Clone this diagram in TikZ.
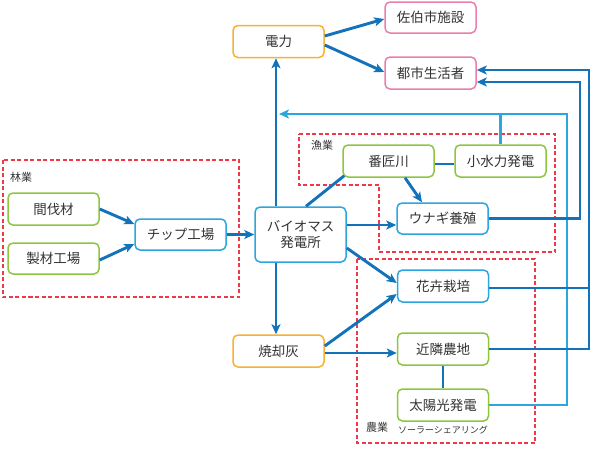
\documentclass[tikz,border=0pt]{standalone}
\usepackage{fontspec}
\setmainfont{Noto Sans CJK JP}
\usetikzlibrary{calc,arrows.meta}
\definecolor{dblue}{HTML}{1373BA}
\definecolor{lblue}{HTML}{2BA6DE}
\definecolor{orng}{HTML}{F8B133}
\definecolor{pnk}{HTML}{EA7FAD}
\definecolor{grn}{HTML}{8DC63F}
\definecolor{rdash}{HTML}{EE3A48}
\definecolor{txt}{HTML}{333333}
\tikzset{
  box/.style={draw, rounded corners=5pt, line width=1.5pt, minimum width=91pt, minimum height=32pt, inner sep=0pt, fill=white, text=txt, font=\fontsize{13.5}{16}\selectfont, align=center},
  obox/.style={box, draw=orng},
  pbox/.style={box, draw=pnk},
  gbox/.style={box, draw=grn},
  bbox/.style={box, draw=lblue},
  arr/.style={draw=dblue, line width=2.9pt, -{Stealth[length=10pt,width=9pt,inset=2.5pt]}},
  ln/.style={draw=dblue, line width=2.9pt},
  larr/.style={draw=lblue, line width=2.4pt, -{Stealth[length=10pt,width=9pt,inset=2.5pt]}},
  lln/.style={draw=lblue, line width=2.4pt},
  region/.style={draw=rdash, line width=1.3pt, dash pattern=on 4pt off 2.5pt},
  rlabel/.style={text=txt, font=\fontsize{11}{12}\selectfont, inner sep=0pt},
}
\begin{document}
\begin{tikzpicture}[x=1pt,y=-1pt]
\useasboundingbox (0,0) rectangle (595,448);
% regions
\draw[region] (3,160) rectangle (239,297);
\draw[region] (299,134) -- (555,134) -- (555,252) -- (379,252) -- (379,185) -- (299,185) -- cycle;
\draw[region] (357,259) rectangle (535,443);
\node[rlabel] (lrin) at (21,177) {林業};
\node[rlabel] (lgyo) at (322,145) {漁業};
\node[rlabel] (lnou) at (377,427) {農業};
\node[text=txt, font=\fontsize{9}{10}\selectfont, inner sep=0pt] (lsolar) at (443,430) {ソーラーシェアリング};
% nodes
\node[obox] (denryoku) at (278.5,41.5) {電力};
\node[pbox, minimum height=31pt] (saiki) at (430.5,17.5) {佐伯市施設};
\node[pbox] (toshi) at (430.5,73) {都市生活者};
\node[gbox] (kanbatsu) at (53.5,209) {間伐材};
\node[gbox, minimum height=31pt] (seizai) at (53.5,258.5) {製材工場};
\node[bbox, minimum height=31pt] (chip) at (180.5,234.5) {チップ工場};
\node[bbox, minimum height=55pt] (bio) at (300.5,234.5) {バイオマス\\発電所};
\node[gbox] (bansho) at (388.5,161) {番匠川};
\node[gbox] (kosui) at (500.5,161) {小水力発電};
\node[bbox, minimum height=31pt] (unagi) at (442.5,218.5) {ウナギ養殖};
\node[bbox] (kaki) at (443,286) {花卉栽培};
\node[gbox] (kinrin) at (443,349) {近隣農地};
\node[gbox] (taiyo) at (443,405) {太陽光発電};
\node[obox] (shokyaku) at (278.5,351) {焼却灰};
% helper coordinates
\coordinate (lt) at (279,114);
\coordinate (lr) at (567,114);
\coordinate (da) at (589,70);
\coordinate (db) at (580,82);
\coordinate (kakiE) at ($(kaki.east)+(0,2)$);
\coordinate (unagiW) at ($(unagi.west)+(0,6.5)$);
% light-blue returns
\draw[lln] (kosui.north) -- (kosui.north |- lt);
\draw[larr] (taiyo.east) -- (taiyo.east -| lr) -- (lr) -- (lt);
% dark-blue returns
\draw[ln] (kakiE) -- (kakiE -| da);
\draw[arr] (kinrin.east) -- (kinrin.east -| da) -- (da) -- ($(toshi.east)+(0,-3)$);
\draw[arr] (unagi.east) -- (unagi.east -| db) -- (db) -- ($(toshi.east)+(0,9)$);
% forestry
\draw[arr] (kanbatsu.east) -- ($(chip.west)+(0,-10.5)$);
\draw[arr] ($(seizai.east)+(0,1.5)$) -- ($(chip.west)+(0,9.5)$);
\draw[arr] (chip.east) -- (bio.west);
% biomass
\draw[arr] ($(bio.north)+(-24.5,0)$) -- ($(denryoku.south)+(-2.5,0)$);
\draw[arr] ($(bio.south)+(-24.5,0)$) -- ($(shokyaku.north)+(-2.5,0)$);
\draw[arr] ($(denryoku.east)+(0,-5.5)$) -- ($(saiki.west)+(0,1.5)$);
\draw[arr] ($(denryoku.east)+(0,3.5)$) -- ($(toshi.west)+(0,-1)$);
\draw[ln] ($(bio.north)+(5.5,0)$) -- ($(bansho.south west)+(2,-2)$);
\draw[ln] ($(bansho.east)+(0,3)$) -- ($(kosui.west)+(0,3)$);
\draw[arr] ($(bansho.south)+(16.5,0)$) -- ($(unagi.north)+(-20.5,0)$);
\draw[arr] (unagiW -| bio.east) -- (unagiW);
\draw[arr] ($(bio.east)+(0,13.5)$) -- ($(kaki.west)+(0,-3)$);
\draw[arr] ($(shokyaku.east)+(0,-5)$) -- ($(kaki.west)+(0,8)$);
\draw[arr] ($(shokyaku.east)+(0,2)$) -- ($(kinrin.west)+(0,4)$);
\draw[ln] (kinrin.south) -- (taiyo.north);
\end{tikzpicture}
\end{document}
